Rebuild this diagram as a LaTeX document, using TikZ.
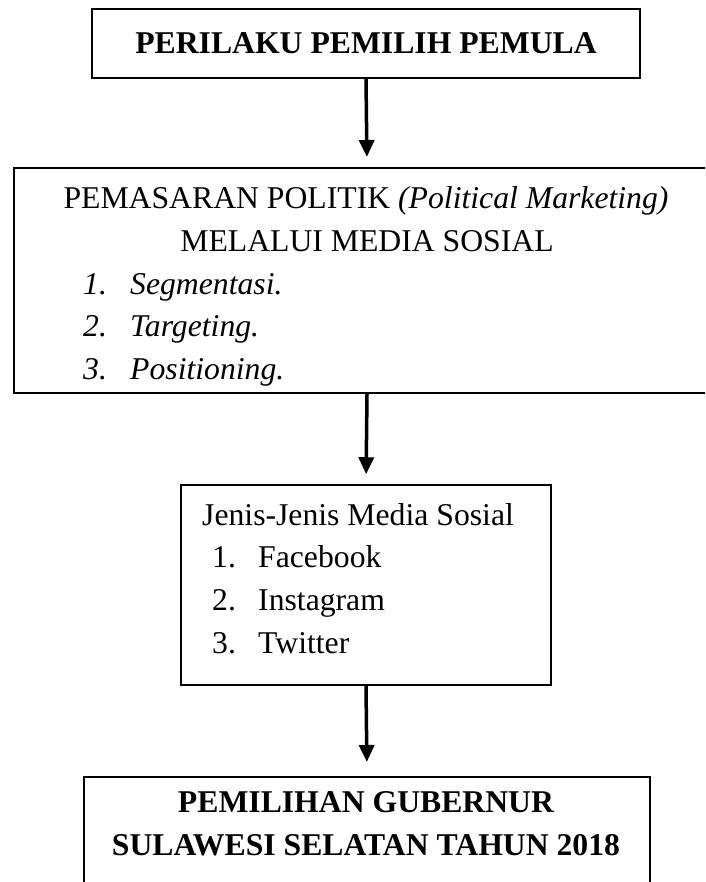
\documentclass[tikz,border=0pt]{standalone}
\usepackage{fontspec}
\setmainfont{Liberation Serif}
\usetikzlibrary{arrows.meta}
\begin{document}
\begin{tikzpicture}[x=1pt,y=-1pt,
  box/.style={draw=black,line width=2pt,inner sep=0pt,minimum width=#1},
  txt/.style={inner sep=0pt,anchor=base,font=\fontsize{31.7}{42.5}\selectfont},
  txtl/.style={inner sep=0pt,anchor=base west,font=\fontsize{31.7}{42.5}\selectfont},
  arr/.style={line width=3.5pt,-{Triangle[width=15pt,length=17pt]}}]
\useasboundingbox (0,0) rectangle (705,882);
\clip (0,0) rectangle (705,882);
% boxes
\node[box=548pt,minimum height=69pt] (b1) at (366,43.5) {};
\node[box=706pt,minimum height=225pt] (b2) at (367,280.5) {};
\node[box=370pt,minimum height=200pt,line width=1.5pt] (b3) at (366,585) {};
\node[box=566pt,minimum height=150pt] (b4) at (367,852) {};
% texts
\node[txt,font=\fontsize{31.7}{42.5}\selectfont\bfseries] (t1) at (366,54) {PERILAKU PEMILIH PEMULA};
\node[txt] (t2a) at (366,209) {PEMASARAN POLITIK \textit{(Political Marketing)}};
\node[txt] (t2b) at (367,251.5) {MELALUI MEDIA SOSIAL};
\node[txtl] (n21) at (83,294) {\textit{1.}};
\node[txtl] (i21) at (130,294) {\textit{Segmentasi.}};
\node[txtl] (n22) at (83,336.5) {\textit{2.}};
\node[txtl] (i22) at (130,336.5) {\textit{Targeting.}};
\node[txtl] (n23) at (83,379) {\textit{3.}};
\node[txtl] (i23) at (130,379) {\textit{Positioning.}};
\node[txtl] (t3) at (202,525) {Jenis-Jenis Media Sosial};
\node[txtl] (n31) at (212,567.5) {1.};
\node[txtl] (i31) at (258,567.5) {Facebook};
\node[txtl] (n32) at (212,610) {2.};
\node[txtl] (i32) at (258,610) {Instagram};
\node[txtl] (n33) at (212,653) {3.};
\node[txtl] (i33) at (258,653) {Twitter};
\node[txt,font=\fontsize{31.7}{42.5}\selectfont\bfseries] (t4a) at (366,812) {PEMILIHAN GUBERNUR};
\node[txt,font=\fontsize{31.7}{42.5}\selectfont\bfseries] (t4b) at (366,855) {SULAWESI SELATAN TAHUN 2018};
% arrows
\draw[arr,shorten >=10pt] (b1.south) -- (b2.north);
\draw[arr,shorten >=10pt] (b2.south) -- (b3.north);
\draw[arr,shorten >=14pt] (b3.south) -- (b4.north);
\end{tikzpicture}
\end{document}
